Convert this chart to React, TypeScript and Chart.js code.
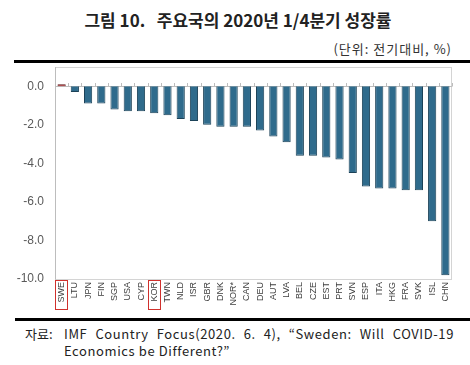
import React, { useEffect, useRef } from "react";
import { Chart, registerables } from "chart.js";

Chart.register(...registerables);

const categories = ["SWE","LTU","JPN","FIN","SGP","USA","CYP","KOR","TWN","NLD","ISR","GBR","DNK","NOR*","CAN","DEU","AUT","LVA","BEL","CZE","EST","PRT","SVN","ESP","ITA","HKG","FRA","SVK","ISL","CHN"];
const growth = [0.1,-0.3,-0.9,-0.9,-1.2,-1.3,-1.3,-1.4,-1.5,-1.7,-1.8,-2.0,-2.1,-2.1,-2.1,-2.3,-2.6,-2.9,-3.6,-3.6,-3.7,-3.8,-4.5,-5.2,-5.3,-5.3,-5.4,-5.4,-7.0,-9.8];
const highlighted = ["SWE", "KOR"];
const redBar = ["SWE"];
const yMin = -10;
const yMax = 1;
const yStep = 2;

const title = "그림 10.   주요국의 2020년 1/4분기 성장률";
const unitNote = "(단위: 전기대비, %)";
const sourceLabel = "자료:";
const sourceLine1 = "IMF Country Focus(2020. 6. 4), \u201CSweden: Will COVID-19";
const sourceLine2 = "Economics be Different?\u201D";

const framePlugin = {
  id: "frame",
  beforeDatasetsDraw(chart: any) {
    const { ctx, chartArea } = chart;
    const { left, right, top, bottom } = chartArea;
    const y0 = chart.scales.y.getPixelForValue(0);
    ctx.save();
    ctx.strokeStyle = "#d4d4d4";
    ctx.lineWidth = 1;
    ctx.strokeRect(left + 0.5, top + 0.5, right - left - 1, bottom - top);
    ctx.strokeStyle = "#bdbdbd";
    ctx.beginPath();
    ctx.moveTo(left + 0.5, top);
    ctx.lineTo(left + 0.5, bottom + 0.5);
    ctx.moveTo(left, Math.round(y0) + 0.5);
    ctx.lineTo(right, Math.round(y0) + 0.5);
    const n = categories.length;
    for (let i = 0; i <= n; i++) {
      const x = Math.round(left + (i * (right - left)) / n) + 0.5;
      ctx.moveTo(x, Math.round(y0) + 0.5);
      ctx.lineTo(x, Math.round(y0) - 3);
    }
    ctx.stroke();
    ctx.restore();
  },
  afterDraw(chart: any) {
    const { ctx, chartArea } = chart;
    const { left, right, bottom } = chartArea;
    const n = categories.length;
    const w = (right - left) / n;
    ctx.save();
    ctx.strokeStyle = "#d0312d";
    ctx.lineWidth = 1;
    highlighted.forEach((c) => {
      const i = categories.indexOf(c);
      const cx = chart.scales.x.getPixelForValue(i);
      ctx.strokeRect(Math.round(cx - w / 2) + 0.5, Math.round(bottom) + 1.5, Math.round(w - 1), 29);
    });
    ctx.restore();
  },
};

function zeroPad(scale: any) {
  scale.paddingTop = 0;
  scale.paddingBottom = 0;
  scale.paddingLeft = 0;
  scale.paddingRight = 0;
}

export default function App() {
  const ref = useRef<HTMLCanvasElement | null>(null);
  useEffect(() => {
    document.body.style.margin = "0";
    const canvas = ref.current!;
    const chart = new Chart(canvas, {
      type: "bar",
      data: {
        labels: categories,
        datasets: [
          {
            data: growth,
            backgroundColor: categories.map((c) => (redBar.includes(c) ? "#a3272b" : "#2f6b8c")),
            borderColor: categories.map((c) => (redBar.includes(c) ? "#5c1214" : "#1c4258")),
            borderWidth: 1,
            categoryPercentage: 0.62,
            barPercentage: 1,
          },
        ],
      },
      options: {
        responsive: false,
        animation: false,
        devicePixelRatio: 1,
        layout: { padding: { left: 0, right: 18, top: 3, bottom: 0 } },
        plugins: { legend: { display: false }, tooltip: { enabled: false } },
        scales: {
          x: {
            grid: { display: false, drawTicks: false },
            border: { display: false },
            ticks: {
              autoSkip: false,
              minRotation: 90,
              maxRotation: 90,
              padding: 3,
              color: "#404040",
              font: { family: "Liberation Sans", size: 9 },
            },
            afterFit(scale: any) {
              scale.height = 35;
              zeroPad(scale);
            },
          },
          y: {
            min: yMin,
            max: yMax,
            grid: { display: false, drawTicks: false },
            border: { display: false },
            ticks: {
              stepSize: yStep,
              includeBounds: false,
              padding: 11,
              color: "#595959",
              font: { family: "Liberation Sans", size: 12 },
              callback: (v: any) => Number(v).toFixed(1),
            },
            afterBuildTicks(scale: any) {
              scale.ticks = scale.ticks.filter((t: any) => t.value <= 0);
            },
            afterFit(scale: any) {
              scale.width = 55;
              zeroPad(scale);
            },
          },
        },
      },
      plugins: [framePlugin],
    });
    return () => chart.destroy();
  }, []);

  const kr = "'Noto Sans CJK KR', 'Noto Sans', sans-serif";
  return (
    <div style={{ position: "relative", width: 470, height: 365, background: "#fff", overflow: "hidden" }}>
      <div style={{ position: "absolute", left: 0, width: 476, top: 7, textAlign: "center", fontFamily: kr, fontSize: 17, fontWeight: 700, color: "#222", whiteSpace: "pre" }}>
        {title}
      </div>
      <div style={{ position: "absolute", right: 18, top: 39, fontFamily: kr, fontSize: 13, letterSpacing: 1, color: "#333", whiteSpace: "pre" }}>
        {unitNote}
      </div>
      <div style={{ position: "absolute", left: 14, right: 0, top: 60, height: 3, background: "#000" }} />
      <div style={{ position: "absolute", left: 0, top: 64, width: 470, height: 250 }}>
        <canvas ref={ref} width={470} height={250} style={{ display: "block" }} />
      </div>
      <div style={{ position: "absolute", left: 15, right: 0, top: 318, height: 3, background: "#000" }} />
      <div style={{ position: "absolute", left: 25, top: 325, fontFamily: kr, fontSize: 13, color: "#222", whiteSpace: "pre", lineHeight: "17px" }}>
        {sourceLabel}
      </div>
      <div style={{ position: "absolute", left: 64, top: 325, width: 390, fontFamily: kr, fontSize: 13, color: "#222", lineHeight: "17px", letterSpacing: 0.6 }}>
        <div style={{ whiteSpace: "pre", textAlign: "justify", textAlignLast: "justify" }}>{sourceLine1}</div>
        <div style={{ whiteSpace: "pre" }}>{sourceLine2}</div>
      </div>
    </div>
  );
}
